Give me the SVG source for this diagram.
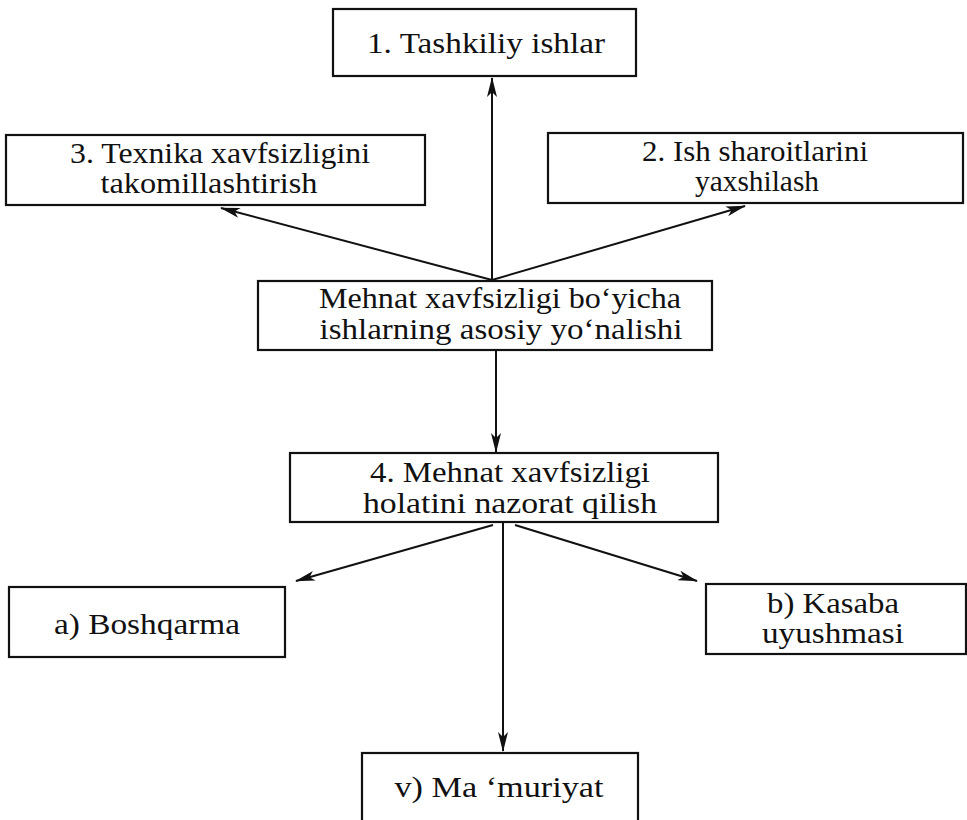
<svg xmlns="http://www.w3.org/2000/svg" width="967" height="820" viewBox="0 0 967 820">
<style>
.box{fill:#fff;stroke:#111;stroke-width:2.2}
.t{font-family:"Liberation Serif","Times New Roman",serif;font-size:30px;fill:#111;text-anchor:middle}
.c{stroke:#111;stroke-width:2;fill:none;marker-end:url(#ah)}
</style>
<defs>
<marker id="ah" viewBox="0 0 20 10" refX="19" refY="5" markerWidth="10" markerHeight="5" markerUnits="strokeWidth" orient="auto">
<path d="M0,0 L20,5 L0,10 L5,5 Z" fill="#111"/>
</marker>
</defs>
<rect width="967" height="820" fill="#fff"/>
<g id="connectors">
<line class="c" x1="492" y1="280" x2="492" y2="78"/>
<line class="c" x1="492" y1="280" x2="221" y2="208"/>
<line class="c" x1="492" y1="280" x2="745" y2="206"/>
<line class="c" x1="496" y1="350" x2="496" y2="452"/>
<line class="c" x1="493" y1="525" x2="296" y2="581"/>
<line class="c" x1="515" y1="525" x2="697" y2="581"/>
<line class="c" x1="503" y1="523" x2="503" y2="751"/>
</g>
<g id="n1">
<rect class="box" x="333" y="9" width="303" height="67"/>
<text class="t" x="486" y="53" textLength="238" lengthAdjust="spacingAndGlyphs">1. Tashkiliy ishlar</text>
</g>
<g id="n3">
<rect class="box" x="6" y="135" width="419" height="70"/>
<text class="t" x="220" y="163" textLength="300" lengthAdjust="spacingAndGlyphs">3. Texnika xavfsizligini</text>
<text class="t" x="209" y="193" textLength="217" lengthAdjust="spacingAndGlyphs">takomillashtirish</text>
</g>
<g id="n2">
<rect class="box" x="548" y="133" width="415" height="70"/>
<text class="t" x="755" y="161" textLength="226" lengthAdjust="spacingAndGlyphs">2. Ish sharoitlarini</text>
<text class="t" x="757" y="191" textLength="124" lengthAdjust="spacingAndGlyphs">yaxshilash</text>
</g>
<g id="n0">
<rect class="box" x="258" y="281" width="454" height="69"/>
<text class="t" x="500" y="308" textLength="362" lengthAdjust="spacingAndGlyphs">Mehnat xavfsizligi bo‘yicha</text>
<text class="t" x="501" y="339" textLength="363" lengthAdjust="spacingAndGlyphs">ishlarning asosiy yo‘nalishi</text>
</g>
<g id="n4">
<rect class="box" x="290" y="453" width="428" height="69"/>
<text class="t" x="510" y="482" textLength="280" lengthAdjust="spacingAndGlyphs">4. Mehnat xavfsizligi</text>
<text class="t" x="510" y="513" textLength="294" lengthAdjust="spacingAndGlyphs">holatini nazorat qilish</text>
</g>
<g id="na">
<rect class="box" x="9" y="587" width="276" height="70"/>
<text class="t" x="147" y="634" textLength="186" lengthAdjust="spacingAndGlyphs">a) Boshqarma</text>
</g>
<g id="nb">
<rect class="box" x="706" y="584" width="260" height="70"/>
<text class="t" x="833" y="613" textLength="132" lengthAdjust="spacingAndGlyphs">b) Kasaba</text>
<text class="t" x="833" y="643" textLength="142" lengthAdjust="spacingAndGlyphs">uyushmasi</text>
</g>
<g id="nv">
<rect class="box" x="362" y="753" width="276" height="80"/>
<text class="t" x="499" y="797" textLength="209" lengthAdjust="spacingAndGlyphs">v) Ma ‘muriyat</text>
</g>
</svg>
